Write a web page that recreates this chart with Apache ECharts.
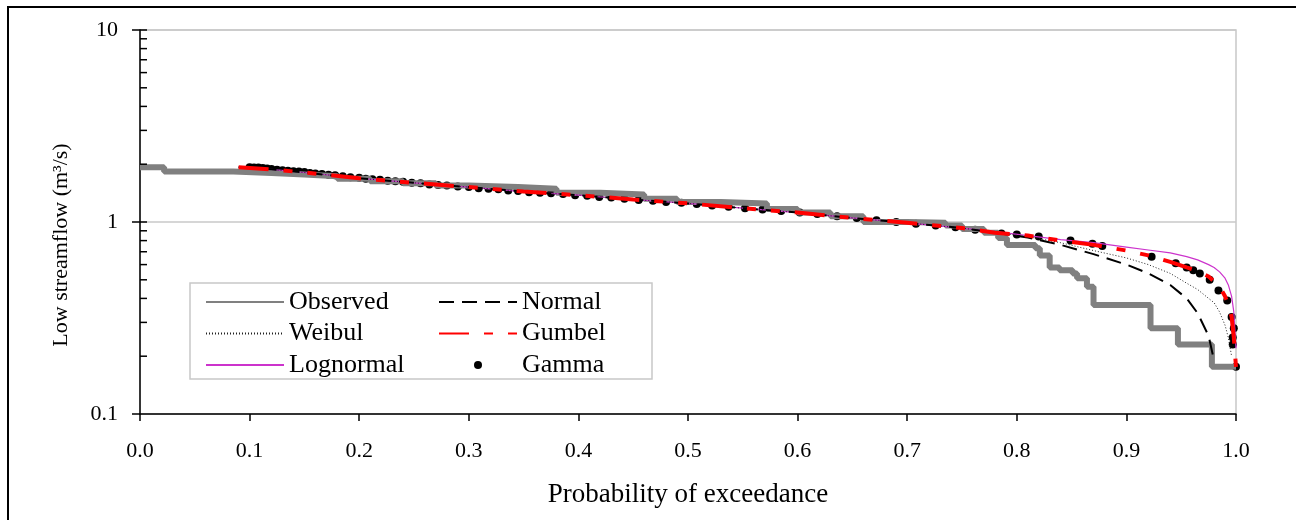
<!DOCTYPE html>
<html>
<head>
<meta charset="utf-8">
<script src="https://cdn.jsdelivr.net/npm/echarts@6/dist/echarts.min.js"></script>
<style>
  html, body { margin: 0; padding: 0; background: #fff; }
  #main { width: 1296px; height: 520px; }
</style>
</head>
<body>
<div id="main"></div>
<script>
// Observed flow duration (step line)
const obsProb = [0, 0.022, 0.085, 0.12, 0.15, 0.18, 0.21, 0.24, 0.27, 0.30, 0.345, 0.38, 0.42, 0.46, 0.49, 0.53, 0.572, 0.60, 0.63, 0.66, 0.70, 0.735, 0.75, 0.77, 0.783, 0.791, 0.817, 0.821, 0.830, 0.839, 0.851, 0.855, 0.864, 0.870, 0.922, 0.947, 0.978, 1.0];
const obsFlow = [1.93, 1.83, 1.80, 1.77, 1.73, 1.68, 1.63, 1.59, 1.55, 1.52, 1.49, 1.42, 1.39, 1.32, 1.27, 1.25, 1.17, 1.12, 1.07, 1.00, 0.99, 0.96, 0.92, 0.88, 0.825, 0.76, 0.73, 0.67, 0.58, 0.56, 0.54, 0.51, 0.46, 0.37, 0.28, 0.23, 0.176, 0.176];

// Fitted distributions, shared probabilities
const fitProb = [0.09, 0.12, 0.15, 0.2, 0.25, 0.3, 0.35, 0.4, 0.45, 0.5, 0.55, 0.6, 0.65, 0.7, 0.75, 0.78, 0.81, 0.84, 0.87, 0.9, 0.92, 0.94, 0.955, 0.965, 0.975, 0.98, 0.985, 0.99, 0.993, 0.996, 0.998, 1.0];
const normalQ = [1.93, 1.88, 1.81, 1.69, 1.60, 1.52, 1.44, 1.38, 1.31, 1.25, 1.18, 1.12, 1.05, 0.99, 0.93, 0.88, 0.83, 0.76, 0.68, 0.60, 0.54, 0.47, 0.40, 0.335, 0.255, 0.19, null, null, null, null, null, null];
const weibulQ = [1.93, 1.88, 1.81, 1.69, 1.60, 1.52, 1.44, 1.38, 1.31, 1.25, 1.18, 1.12, 1.05, 0.99, 0.93, 0.88, 0.84, 0.78, 0.71, 0.65, 0.60, 0.54, 0.48, 0.445, 0.40, 0.38, 0.34, 0.29, 0.25, 0.20, null, null];
const gumbelQ = [1.93, 1.88, 1.81, 1.69, 1.60, 1.52, 1.44, 1.38, 1.31, 1.25, 1.18, 1.12, 1.05, 0.99, 0.93, 0.88, 0.85, 0.80, 0.76, 0.71, 0.67, 0.62, 0.58, 0.555, 0.52, 0.49, 0.46, 0.41, 0.37, 0.32, 0.25, 0.176];
const lognormQ = [1.93, 1.88, 1.81, 1.69, 1.60, 1.52, 1.44, 1.38, 1.31, 1.25, 1.18, 1.12, 1.05, 0.99, 0.93, 0.89, 0.85, 0.81, 0.78, 0.74, 0.715, 0.69, 0.66, 0.635, 0.60, 0.58, 0.55, 0.51, 0.47, 0.41, 0.34, 0.22];

// Gamma points [probability, flow]
const gammaPts = [
  [0.100, 1.93], [0.104, 1.92], [0.108, 1.92], [0.112, 1.91], [0.116, 1.90], [0.120, 1.89], [0.125, 1.87], [0.130, 1.86],
  [0.135, 1.85], [0.140, 1.84], [0.145, 1.83], [0.150, 1.82], [0.155, 1.80], [0.160, 1.79], [0.166, 1.78], [0.172, 1.76],
  [0.178, 1.75], [0.185, 1.73], [0.192, 1.71], [0.200, 1.70], [0.206, 1.68], [0.212, 1.67], [0.219, 1.66], [0.226, 1.64],
  [0.233, 1.63], [0.240, 1.62], [0.248, 1.60], [0.256, 1.59], [0.264, 1.57], [0.272, 1.56], [0.280, 1.55], [0.290, 1.53],
  [0.300, 1.52], [0.309, 1.50], [0.318, 1.49], [0.327, 1.48], [0.336, 1.46], [0.345, 1.45], [0.355, 1.43], [0.365, 1.42],
  [0.375, 1.41], [0.386, 1.40], [0.397, 1.38], [0.408, 1.37], [0.419, 1.35], [0.430, 1.34], [0.442, 1.32], [0.455, 1.30],
  [0.468, 1.29], [0.480, 1.27], [0.494, 1.26], [0.508, 1.24], [0.522, 1.22], [0.537, 1.20], [0.552, 1.18], [0.568, 1.16],
  [0.585, 1.14], [0.602, 1.12], [0.618, 1.10], [0.636, 1.07], [0.654, 1.05], [0.672, 1.02], [0.690, 1.00], [0.708, 0.98],
  [0.726, 0.96], [0.744, 0.94], [0.762, 0.91], [0.786, 0.87], [0.80, 0.86], [0.82, 0.84], [0.849, 0.80], [0.869, 0.77],
  [0.878, 0.75], [0.923, 0.66], [0.945, 0.61], [0.955, 0.58], [0.961, 0.56], [0.967, 0.54], [0.976, 0.50], [0.984, 0.44],
  [0.992, 0.39], [0.996, 0.32], [0.998, 0.28], [0.997, 0.25], [0.997, 0.23], [1.0, 0.176]
];

// Inner tick marks on the log axis
const yInnerTicks = [0.2, 0.3, 0.4, 0.5, 0.6, 0.7, 0.8, 0.9, 1, 2, 3, 4, 5, 6, 7, 8, 9, 10];

const serif = 'Liberation Serif';
const zip = (xs, ys) => xs.map((x, i) => [x, ys[i]]);

let myChart = echarts.init(document.getElementById('main'));

const legendText = { fontFamily: serif, fontSize: 26, lineHeight: 22, color: '#000' };
// hide the marker that line series put in the middle of their legend icon
const noMarker = { opacity: 0 };

let option = {
  animation: false,
  backgroundColor: '#fff',
  graphic: [
    { type: 'rect', shape: { x: 8, y: 7, width: 1320, height: 600 }, style: { fill: 'none', stroke: '#000', lineWidth: 2 }, silent: true },
    { type: 'rect', z: 10, shape: { x: 190, y: 283, width: 462, height: 96 }, style: { fill: '#fff', stroke: '#c8c8c8', lineWidth: 1.5 }, silent: true }
  ],
  grid: {
    left: 140, right: 60, top: 30, bottom: 106,
    show: true, borderColor: '#c8c8c8', borderWidth: 1.5
  },
  legend: [
    {
      orient: 'vertical', left: 205, top: 289, padding: 0, z: 20,
      itemWidth: 78, itemHeight: 14, itemGap: 5.5, selectedMode: false,
      textStyle: legendText, itemStyle: noMarker,
      data: ['Observed', 'Weibul', 'Lognormal']
    },
    {
      orient: 'vertical', left: 438, top: 289, padding: 0, z: 20,
      itemWidth: 78, itemHeight: 14, itemGap: 5.5, selectedMode: false,
      textStyle: legendText, itemStyle: noMarker,
      data: ['Normal', 'Gumbel', {
        name: 'Gamma',
        icon: 'path://M0,0M78,14M35,7a4,4 0 1,0 8,0a4,4 0 1,0 -8,0z',
        itemStyle: { opacity: 1, color: '#000' }
      }]
    }
  ],
  xAxis: {
    type: 'value', min: 0, max: 1, interval: 0.1,
    name: 'Probability of exceedance', nameLocation: 'middle', nameGap: 67,
    nameTextStyle: { fontFamily: serif, fontSize: 27, color: '#000' },
    axisLine: { lineStyle: { color: '#000', width: 1.5 } },
    axisTick: { length: 7, lineStyle: { color: '#000', width: 1.5 } },
    axisLabel: { fontFamily: serif, fontSize: 22, color: '#000', margin: 26, formatter: (v) => v.toFixed(1) },
    splitLine: { show: false }
  },
  yAxis: {
    type: 'log', logBase: 10, min: 0.1, max: 10,
    name: 'Low streamflow (m³/s)', nameLocation: 'middle', nameGap: 68,
    nameTextStyle: { fontFamily: serif, fontSize: 22, color: '#000', padding: [0, 46, 0, 0] },
    axisLine: { show: true, lineStyle: { color: '#000', width: 1.5 } },
    axisTick: { length: 8, lineStyle: { color: '#000', width: 1.5 } },
    axisLabel: { fontFamily: serif, fontSize: 22, color: '#000', margin: 22, formatter: (v) => String(v) },
    splitLine: { show: true, lineStyle: { color: '#c8c8c8', width: 1.5 } },
    minorTick: { show: false }
  },
  series: [
    {
      name: 'Observed', type: 'line', step: 'end', symbol: 'none', color: '#808080',
      lineStyle: { width: 6, color: '#808080' },
      data: zip(obsProb, obsFlow)
    },
    {
      name: 'Lognormal', type: 'line', symbol: 'none', color: '#cc33cc',
      lineStyle: { width: 1.2, color: '#cc33cc' },
      data: zip(fitProb, lognormQ)
    },
    {
      name: 'Weibul', type: 'line', symbol: 'none', color: '#222',
      lineStyle: { width: 1, color: '#222', type: [1, 2] },
      data: zip(fitProb, weibulQ)
    },
    {
      name: 'Normal', type: 'line', symbol: 'none', color: '#000',
      lineStyle: { width: 2, color: '#000', type: [15, 8] },
      data: zip(fitProb, normalQ)
    },
    {
      name: 'Gumbel', type: 'line', symbol: 'none', color: '#ff0000',
      lineStyle: { width: 4, color: '#ff0000', type: [30, 15, 9, 15, 9, 15] },
      data: zip(fitProb, gumbelQ)
    },
    {
      name: 'Gamma', type: 'scatter', symbol: 'circle', symbolSize: 8, color: '#000',
      itemStyle: { color: '#000', opacity: 1 },
      data: gammaPts
    },
    {
      name: 'ticks', type: 'custom', silent: true, z: 5,
      renderItem: (params, api) => {
        const p = api.coord([0, api.value(1)]);
        return {
          type: 'line',
          shape: { x1: p[0], y1: p[1], x2: p[0] + 7, y2: p[1] },
          style: { stroke: '#000', lineWidth: 1.5 }
        };
      },
      data: yInnerTicks.map((v) => [0, v])
    }
  ]
};

option && myChart.setOption(option);
</script>
</body>
</html>
